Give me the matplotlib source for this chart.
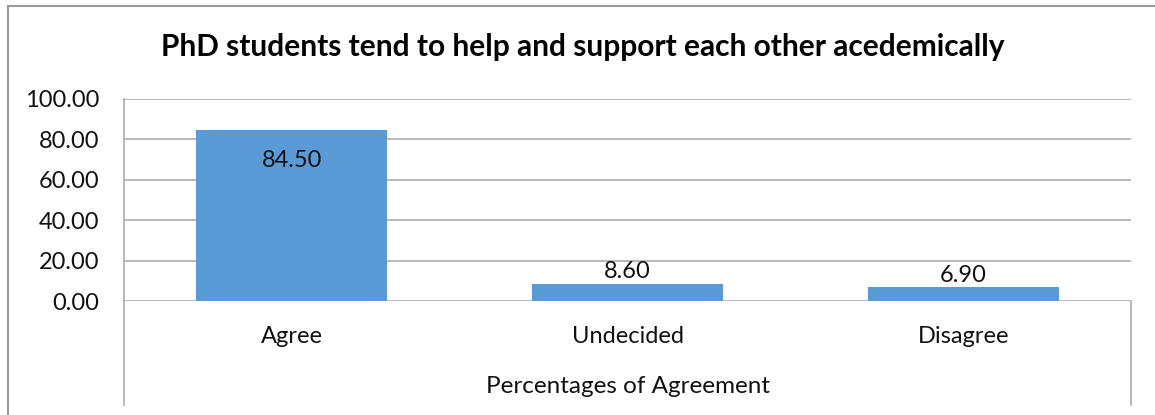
import matplotlib
matplotlib.use("Agg")
import matplotlib.pyplot as plt
from matplotlib.lines import Line2D

categories = ["Agree", "Undecided", "Disagree"]
values = [84.50, 8.60, 6.90]
yticks = [0, 20, 40, 60, 80, 100]
title = "PhD students tend to help and support each other acedemically"
xlabel = "Percentages of Agreement"

plt.rcParams['font.family'] = ['Lato', 'DejaVu Sans']
W, H = 1155, 415
fig = plt.figure(figsize=(W / 100, H / 100), dpi=100)

def fx(px):
    return px / W

def fy(py):
    return 1 - py / H

left, right, top, bottom = 124, 1131, 99, 301
ax = fig.add_axes([fx(left), fy(bottom), fx(right - left), fy(top) - fy(bottom)])

text_color = '#111111'
grid_color = '#b3b3b3'
bar_color = '#5b9bd5'
fs = 17

x = list(range(len(categories)))
bars = ax.bar(x, values, width=0.57, color=bar_color, zorder=3)
ax.set_xlim(-0.5, len(categories) - 0.5)
ax.set_ylim(0, 100)
ax.set_yticks(yticks)
ax.set_yticklabels([f"{v:.2f}" for v in yticks], fontsize=fs, color=text_color)
ax.yaxis.grid(True, color=grid_color, linewidth=1.3, zorder=0)
ax.tick_params(axis='y', length=0, pad=18)
ax.set_xticks([])
for s in ['top', 'right', 'bottom']:
    ax.spines[s].set_visible(False)
ax.spines['left'].set_color(grid_color)
ax.spines['left'].set_linewidth(1.3)

# data labels
for i, v in enumerate(values):
    if v > 50:
        ax.annotate(f"{v:.2f}", (i, v), xytext=(0, -30), textcoords='offset pixels',
                    ha='center', va='center', fontsize=fs, color=text_color, zorder=4)
    else:
        ax.annotate(f"{v:.2f}", (i, v), xytext=(0, 12), textcoords='offset pixels',
                    ha='center', va='center', fontsize=fs, color=text_color, zorder=4)

# category labels and axis title (below plot area)
for i, c in enumerate(categories):
    xf = fx(left) + (i + 0.5) / len(categories) * fx(right - left)
    fig.text(xf, fy(336), c, ha='center', va='center', fontsize=fs, color=text_color)
fig.text(fx((left + right) / 2), fy(386), xlabel, ha='center', va='center',
         fontsize=17.5, color=text_color)

# extended axis lines
fig.add_artist(Line2D([fx(left), fx(left)], [fy(bottom), fy(405)], color=grid_color, lw=1.3))
fig.add_artist(Line2D([fx(right), fx(right)], [fy(bottom), fy(405)], color=grid_color, lw=1.3))

# chart border (cropped)
fig.add_artist(Line2D([fx(7.5), fx(W + 5)], [fy(6.5), fy(6.5)], color='#9a9a9a', lw=1.5))
fig.add_artist(Line2D([fx(7.5), fx(7.5)], [fy(6.5), fy(H + 5)], color='#9a9a9a', lw=1.5))

fig.text(fx(583), fy(47), title, ha='center', va='center', fontsize=21.5,
         fontweight='bold', color='#000000')

fig.savefig("out.png", dpi=100)
